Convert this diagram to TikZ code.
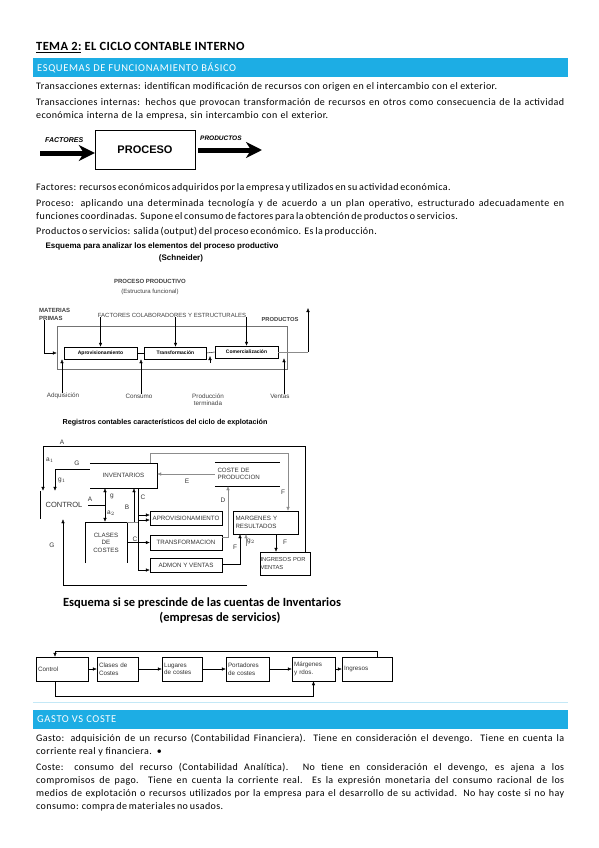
\documentclass[tikz,border=0pt]{standalone}
\usepackage{fontspec}
\setmainfont{Carlito}
\newfontfamily\arialf{Liberation Sans}
\usetikzlibrary{positioning,calc,arrows.meta}
\definecolor{bandblue}{HTML}{1DADE4}
\definecolor{lineblue}{HTML}{C4E8F6}
\definecolor{graylink}{HTML}{8C8C8C}
\newcommand{\txtline}[4]{\node[anchor=base west,inner sep=0pt,font=\fontsize{10}{12}\selectfont\addfontfeatures{LetterSpace=4}] (#1) at (36,#2) {\makebox[#3pt][s]{#4}};}

\begin{document}
\begin{tikzpicture}[x=1pt,y=-1pt,
  band/.style={fill=bandblue,minimum width=535pt,minimum height=19pt,anchor=north west,inner sep=0pt},
  bandtxt/.style={anchor=west,inner sep=0pt,text=white,font=\fontsize{10.5}{12}\selectfont\addfontfeatures{LetterSpace=6}},
  arr/.style={-{Latex[length=4pt,width=3.5pt]}},
  fat/.style={line width=5pt,-{Stealth[length=16pt,width=16pt,inset=5pt]}},
  pbox/.style={draw,minimum height=12pt,inner sep=1pt,font=\arialf\bfseries\fontsize{5}{6}\selectfont},
  plbl/.style={inner sep=0pt,font=\arialf\fontsize{6.3}{7}\selectfont,text=black!75},
  cbox/.style={inner sep=1pt,font=\arialf\fontsize{6.2}{7.5}\selectfont,text=black!80},
  clbl/.style={inner sep=0pt,font=\arialf\fontsize{6.5}{7}\selectfont,text=black!80},
  sbox/.style={draw,minimum height=24pt,inner xsep=2pt,align=left,font=\arialf\fontsize{6.3}{7.5}\selectfont,text=black!80}]
\useasboundingbox (0,0) rectangle (599,848);

% cabecera
\node[anchor=base west,inner sep=0pt,font=\bfseries\fontsize{12.5}{14}\selectfont\addfontfeatures{LetterSpace=3}] (titulo) at (36,51) {\underline{TEMA 2:} EL CICLO CONTABLE INTERNO};
\node[band] (band1) at (33,58) {};
\node[bandtxt] (band1t) at (37,67.5) {ESQUEMAS DE FUNCIONAMIENTO BÁSICO};

\txtline{t1}{90}{461}{Transacciones externas: identifican modificación de recursos con origen en el intercambio con el exterior.}
\txtline{t2}{106}{528}{Transacciones internas: hechos que provocan transformación de recursos en otros como consecuencia de la actividad}
\txtline{t3}{119}{292}{económica interna de la empresa, sin intercambio con el exterior.}

% factores -> proceso -> productos
\node[draw,minimum width=100pt,minimum height=39pt,font=\arialf\bfseries\fontsize{11}{12}\selectfont] (proceso) at (145,149.5) {PROCESO};
\coordinate (fac) at (40,153);
\coordinate (prodend) at (262,150);
\draw[fat] (fac) -- (fac -| proceso.west);
\draw[fat] ([xshift=3pt]proceso.east |- prodend) -- (prodend);
\node[anchor=west,inner sep=0pt,font=\arialf\bfseries\itshape\fontsize{7}{8}\selectfont] (factxt) at (45,140) {FACTORES};
\node[anchor=west,inner sep=0pt,font=\arialf\bfseries\itshape\fontsize{6.5}{7}\selectfont] (prodtxt) at (200,138) {PRODUCTOS};

\txtline{t4}{190}{412}{Factores: recursos económicos adquiridos por la empresa y utilizados en su actividad económica.}
\txtline{t5}{206}{528}{Proceso: aplicando una determinada tecnología y de acuerdo a un plan operativo, estructurado adecuadamente en}
\txtline{t6}{219}{394}{funciones coordinadas. Supone el consumo de factores para la obtención de productos o servicios.}
\txtline{t7}{234}{334}{Productos o servicios: salida (output) del proceso económico. Es la producción.}

% esquema de Schneider
\node[inner sep=0pt,font=\arialf\bfseries\fontsize{8}{9}\selectfont] (schtit) at (162,246) {Esquema para analizar los elementos del proceso productivo};
\node[inner sep=0pt,font=\arialf\bfseries\fontsize{8}{9}\selectfont] (schsub) at (181,258) {(Schneider)};
\node[plbl,align=center,font=\arialf\fontsize{6}{10}\selectfont] (procprod) at (150,287) {\textbf{PROCESO PRODUCTIVO}\\(Estructura funcional)};
\node[plbl,anchor=west,align=left,font=\arialf\bfseries\fontsize{6}{8}\selectfont] (materias) at (39,314) {MATERIAS\\PRIMAS};
\node[plbl,font=\arialf\fontsize{6}{7}\selectfont] (fcl) at (172,315) {FACTORES COLABORADORES Y ESTRUCTURALES};
\node[plbl,font=\arialf\bfseries\fontsize{5.8}{7}\selectfont] (prodlbl) at (280,320) {PRODUCTOS};
\node[draw=black!55,minimum width=230pt,minimum height=43pt] (marco) at (172,347.5) {};
\node[pbox,minimum width=73pt] (aprov) at (100.5,353) {Aprovisionamiento};
\node[pbox,minimum width=62pt] (transf) at (175.5,353) {Transformación};
\node[pbox,minimum width=63pt] (comerc) at (246.5,352) {Comercialización};
\node[plbl] (adq) at (63,396) {Adquisición};
\node[plbl] (cons) at (139,396) {Consumo};
\node[plbl,align=center] (pterm) at (208,400) {Producción\\terminada};
\node[plbl] (vent) at (280,396) {Ventas};
\coordinate (pup) at (308,308);
\coordinate (ptip) at (210,363);
\draw[arr] (aprov.north |- fcl.south) -- (aprov.north);
\draw[arr] (transf.north |- fcl.south) -- (transf.north);
\draw[arr] (comerc.north |- fcl.south) -- (comerc.north);
\draw[arr] ([xshift=5pt]materias.south west) |- (marco.west |- aprov);
\draw (aprov.east) -- (transf.west);
\draw (transf.east) -- (comerc.west);
\draw[arr] ([xshift=-1pt]adq.north) -- ([xshift=-1pt]adq.north |- aprov.south);
\draw[arr] ([xshift=2pt]cons.north) -- ([xshift=2pt]cons.north |- aprov.south);
\draw[arr] (ptip) -- ++(0,-7);
\draw[arr] ([xshift=4pt]vent.north) -- ([xshift=4pt]vent.north |- comerc.south);
\draw[graylink] (comerc.east) -- (comerc.east -| pup);
\draw[arr] (comerc.east -| pup) -- (pup);

% registros contables
\node[inner sep=0pt,font=\arialf\bfseries\fontsize{7.2}{8}\selectfont] (regtit) at (165,423) {Registros contables característicos del ciclo de explotación};
\node[cbox,minimum width=67pt,minimum height=25pt] (inv) at (123.5,475.5) {INVENTARIOS};
\node[cbox,minimum width=48pt,minimum height=28pt,font=\arialf\fontsize{7.5}{8}\selectfont] (ctrl) at (64,505) {CONTROL};
\node[cbox,minimum width=65pt,minimum height=24pt,text width=60pt,align=left] (coste) at (247.5,474) {COSTE DE\\PRODUCCION};
\node[cbox,draw,minimum width=72pt,minimum height=14pt] (aprv) at (186,518) {APROVISIONAMIENTO};
\node[cbox,draw,minimum width=72pt,minimum height=15pt] (trans) at (186,542.5) {TRANSFORMACION};
\node[cbox,draw,minimum width=72pt,minimum height=14pt] (admon) at (186,565) {ADMON Y VENTAS};
\node[cbox,draw,minimum width=65pt,minimum height=23pt,text width=60pt,align=left] (marg) at (265.5,522.5) {MARGENES Y\\RESULTADOS};
\node[cbox,draw,minimum width=50pt,minimum height=23pt,text width=49pt,inner xsep=0.5pt,align=left,font=\arialf\fontsize{5.8}{7.5}\selectfont] (ingr) at (285,563.5) {INGRESOS POR\\VENTAS};
\node[cbox,minimum width=42pt,minimum height=41pt,align=center] (clases) at (106,542.5) {CLASES\\DE\\COSTES};
\draw (inv.north west) -- (inv.north east) -- (inv.south east) -- (inv.south west);
\draw (ctrl.north west) -- (ctrl.south west);
\draw (coste.north west) -- (coste.north east);
\draw (coste.south west) -- (coste.south east);
\draw (clases.south west) -- (clases.north west) -- (clases.north east) -- (clases.south east);

\coordinate (aTop) at (43,446);
\coordinate (gA) at (55,469);
\coordinate (fTop) at (288,453);
\coordinate (dx) at (228,537);
\coordinate (gBot) at (63,585);
\coordinate (gEnd) at (247,585);
\coordinate (ax) at (105,505);
\coordinate (bx) at (134,522);
\coordinate (cx) at (138,570);
\coordinate (s2) at (246,546);

\draw[arr] ([xshift=-5pt]ingr.north east) |- (aTop) -- (aTop |- ctrl.north);
\draw[arr] (inv.west |- gA) -- (gA) -- (gA |- ctrl.north);
\draw[graylink,arr] ([xshift=-7pt]inv.north east) |- (fTop) -- (fTop |- marg.north);
\draw[graylink,arr] (coste.west) -- (inv.east |- coste.west);
\draw[graylink,arr] (trans.east |- dx) -- (dx) -- (dx |- coste.south);
\draw[arr] ([xshift=10.5pt]marg.south) -- ([xshift=10.5pt]marg.south |- ingr.north);
\draw[arr] ([yshift=1pt]admon.east) -| ([xshift=-25.5pt]marg.south);
\draw[graylink,arr] (s2) -- (s2 |- marg.south);
\draw[arr] (gEnd) -- (gBot) -- (gBot |- ctrl.south);
\draw[{Latex[length=4pt,width=3.5pt]}-{Latex[length=4pt,width=3.5pt]}] (inv.south -| ax) -- (ax |- clases.north);
\draw (ctrl.east |- ax) -- (ax);
\draw[arr] (bx) -- (bx |- inv.south);
\draw[graylink] (clases.north east) -- (clases.north east -| cx);
\draw (inv.south -| cx) -- (cx);
\draw[arr] (cx) -- (cx -| admon.west);
\draw[arr] ([yshift=-2pt]aprv.west -| cx) -- ([yshift=-2pt]aprv.west);
\draw[arr] ([yshift=3pt]aprv.west -| cx) -- ([yshift=3pt]aprv.west);
\draw[arr] (clases.east |- trans) -- (trans.west);

\node[clbl] (lA1) at (62,442) {A};
\node[clbl] (la1) at (50,460) {a$_1$};
\node[clbl] (lG1) at (77,463) {G};
\node[clbl] (lg1) at (62,480) {g$_1$};
\node[clbl] (lA2) at (90,499) {A};
\node[clbl] (lg) at (112,496) {g};
\node[clbl] (la2) at (111,513) {a$_2$};
\node[clbl] (lB) at (127,507) {B};
\node[clbl] (lC1) at (143,497) {C};
\node[clbl] (lC2) at (135,539) {C};
\node[clbl] (lE) at (187,481) {E};
\node[clbl] (lD) at (223,500) {D};
\node[clbl] (lF1) at (283,492) {F};
\node[clbl] (lF2) at (235,547) {F};
\node[clbl] (lg2) at (251,541) {g$_2$};
\node[clbl] (lF3) at (285,542) {F};
\node[clbl] (lG2) at (52,545) {G};

% empresas de servicios
\node[inner sep=0pt,font=\bfseries\fontsize{12.5}{14}\selectfont] (servtit) at (202,603) {Esquema si se prescinde de las cuentas de Inventarios};
\node[inner sep=0pt,font=\bfseries\fontsize{12.5}{14}\selectfont] (servsub) at (220,618) {(empresas de servicios)};
\node[sbox,text width=48pt] (ctl2) at (62,669) {Control};
\node[sbox,text width=37pt] (clas2) at (117.5,669) {Clases de\\Costes};
\node[sbox,text width=36pt] (lug) at (182,669) {Lugares\\de costes};
\node[sbox,text width=39pt] (port) at (247.5,669) {Portadores\\de costes};
\node[sbox,text width=39pt] (marg2) at (313.5,669) {Márgenes\\y rdos.};
\node[sbox,text width=46pt] (ingr2) at (367,669) {Ingresos};
\coordinate (topS) at (55,651);
\coordinate (botS) at (55,696);
\draw[arr] (ctl2) -- (clas2);
\draw[arr] (clas2) -- (lug);
\draw[arr] (lug) -- (port);
\draw[arr] (port) -- (marg2);
\draw[arr] (marg2) -- (ingr2);
\draw[arr] ([xshift=10pt]ingr2.north) |- (topS) -- (topS |- ctl2.north);
\draw[arr] (ctl2.south -| botS) -- (botS) -| (marg2.south);

% gasto vs coste
\draw[lineblue,line width=1pt] (33,702) -- (568,702);
\node[band] (band2) at (33,710) {};
\node[bandtxt] (band2t) at (37,719.5) {GASTO VS COSTE};
\txtline{t8}{741}{528}{Gasto: adquisición de un recurso (Contabilidad Financiera). Tiene en consideración el devengo. Tiene en cuenta la}
\node[anchor=base west,inner sep=0pt,font=\fontsize{10}{12}\selectfont\addfontfeatures{LetterSpace=4}] (t9) at (36,754) {corriente real y financiera.\hspace{5pt}•};
\txtline{t10}{770}{528}{Coste: consumo del recurso (Contabilidad Analítica). No tiene en consideración el devengo, es ajena a los}
\txtline{t11}{783}{528}{compromisos de pago. Tiene en cuenta la corriente real. Es la expresión monetaria del consumo racional de los}
\txtline{t12}{796}{528}{medios de explotación o recursos utilizados por la empresa para el desarrollo de su actividad. No hay coste si no hay}
\txtline{t13}{809}{187}{consumo: compra de materiales no usados.}
\end{tikzpicture}
\end{document}
